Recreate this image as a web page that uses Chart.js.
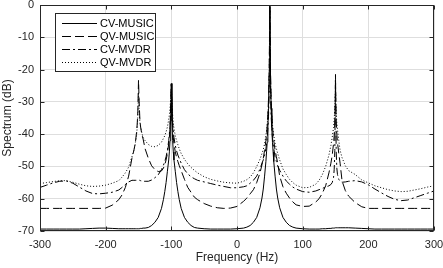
<!DOCTYPE html>
<html>
<head>
<meta charset="utf-8">
<script src="https://cdn.jsdelivr.net/npm/chart.js@4/dist/chart.umd.min.js"></script>
<style>
html,body{margin:0;padding:0;background:#fff;}
#wrap{width:443px;height:268px;}
</style>
</head>
<body>
<div id="wrap"><canvas id="c" width="443" height="268"></canvas></div>
<script>
// Frequency samples (Hz)
const freqs = [
-300,-290,-280,-270,-260,-250,-240,-230,-220,-210,-200,
-190,-180,-175,-170,-165,-160,-157,-155,-153,-152,-151,-150,-149,-148,-147,-145,-143,-140,-135,-130,-125,-120,-115,-112,-110,-108,-106,-104,-103,-102,-101,-100,
-99,-98,-97,-96,-94,-92,-90,-88,-85,-80,-75,-70,-65,-60,-50,-40,-30,-20,-10,0,
10,15,20,25,30,35,38,40,42,44,45,46,47,48,49,50,
51,52,53,54,55,56,58,60,62,65,70,75,80,85,90,100,
110,120,125,130,135,140,143,145,147,148,149,150,
151,152,153,155,157,160,165,170,180,190,200,
210,220,230,240,250,260,270,280,290,300
];
const cvMusic = [
-69.4,-69.4,-69.4,-69.4,-69.4,-69.4,-69.4,-69.3,-69.2,-69.1,-69.1,
-69.2,-69.3,-69.3,-69.3,-69.3,-69.3,-69.3,-69.3,-69.3,-69.3,-69.3,-69.3,-69.3,-69.2,-69.2,-69.2,-69.1,-69.1,-68.9,-68.3,-67.3,-65.8,-63,-60.2,-57.8,-55,-51.5,-48,-45.5,-42,-36,-24.3,
-36,-42,-45.5,-48,-51.5,-55,-57.8,-60.2,-63,-65.8,-67.3,-68.3,-68.9,-69.1,-69.3,-69.4,-69.4,-69.4,-69.4,-69.3,
-69.1,-68.8,-68.3,-67.3,-65.8,-62.8,-59.8,-57,-53,-48.5,-45.5,-42.5,-38,-32,-22,0,
-22,-32,-38,-42.5,-45.5,-48.5,-53,-57,-59.8,-62.8,-65.8,-67.3,-68.3,-68.8,-69.1,-69.3,
-69.4,-69.4,-69.4,-69.3,-69.3,-69.2,-69.2,-69.1,-69.1,-69.1,-69.1,-69.0,
-69.0,-69.0,-69.0,-69.0,-69.0,-69.0,-69.0,-69.0,-69.1,-69.2,-69.3,
-69.4,-69.4,-69.4,-69.4,-69.4,-69.4,-69.4,-69.4,-69.4,-69.4
];
const qvMusic = [
-63,-63,-63,-63,-63,-63,-63,-63,-63,-63,-62.9,
-62,-60.3,-58.8,-56.5,-53,-47.5,-45,-43,-39.5,-37,-33,-23.3,-30,-35,-37.5,-40,-41.5,-44.5,-47.5,-49.8,-51,-51.6,-51.4,-50.5,-49.5,-48,-46,-43,-41,-38,-33,-24.5,
-33,-38,-41,-43,-45.5,-47.2,-48.5,-49.7,-51.3,-54,-56.5,-58,-59.5,-60.3,-61.5,-62.3,-62.8,-63,-62.9,-62.4,
-60.8,-59.8,-58.5,-57.2,-55,-52,-49.5,-47.5,-45,-42,-40,-37.5,-34,-29,-20,-0.5,
-20,-29,-34,-37.5,-40,-42,-45,-47,-49,-53,-56.3,-58.3,-59.8,-61,-61.9,-62.4,
-62.3,-61,-60,-58.3,-56,-52,-49,-46.5,-43,-40.5,-36,-22.5,
-36,-40,-42.5,-46,-49,-54.5,-57.5,-59.2,-61.2,-62.5,-63,
-63,-63,-63,-63,-63,-63,-63,-63,-63,-63
];
const cvMvdr = [
-56.5,-55.8,-55.1,-54.6,-54.5,-55.2,-56.4,-57.6,-58.4,-58.5,-58.3,
-58,-57.3,-56.5,-55.6,-54.8,-54.3,-54.3,-54.3,-54.3,-54.3,-54.3,-54.3,-54.3,-54.3,-54.4,-54.5,-54.6,-54.6,-54.6,-54.2,-53.5,-52.6,-51,-49.6,-48.5,-47,-45,-42,-40,-37,-32,-24.5,
-32,-36.5,-39,-41,-43.5,-45.2,-46.5,-47.5,-49,-51,-52.3,-53.2,-53.8,-54.3,-54.8,-55.3,-55.8,-56.2,-56.6,-56.6,
-56.3,-56,-55.2,-54.3,-53,-50.8,-49,-48,-46.5,-44.5,-43,-41,-38.5,-34.5,-27,-0.5,
-27,-34.5,-38.5,-41,-43,-44.5,-47,-48.5,-49.8,-51.2,-53,-54.5,-55.5,-56.4,-57,-57.8,
-58,-57.6,-57.2,-56.8,-56.4,-56,-55.6,-55,-53.5,-51,-45,-21.5,
-45,-50.5,-52.5,-54,-54.6,-54.9,-54.8,-54.6,-54.4,-54.8,-55.7,
-57,-58.2,-59.3,-60.2,-60.6,-60.4,-59.7,-59,-58.3,-57.6
];
const qvMvdr = [
-55.3,-55.0,-54.7,-54.4,-54.4,-54.9,-55.5,-56.0,-56.2,-56.1,-55.8,
-55.2,-54.4,-53.3,-52,-50.2,-47,-45,-43,-40.5,-38,-34,-27,-33,-36,-37.5,-39.5,-41,-42,-43.2,-43.8,-43.9,-43.5,-42.5,-41.3,-40.5,-39.3,-37.8,-35.5,-34,-32,-29,-25,
-30,-34,-36.5,-38.2,-40.5,-42,-43.3,-44.5,-46,-47.8,-49.2,-50.3,-51.2,-52,-53.2,-54,-54.5,-54.9,-55.1,-55.2,
-54.6,-54.1,-53.3,-52,-50,-47.8,-46,-44.8,-43,-40.5,-39,-37,-34.5,-30.5,-24,-1,
-24,-30.5,-34.5,-37,-39,-40.5,-42.8,-44.5,-46,-48,-50.8,-52.5,-54,-55,-55.8,-56.6,
-56.5,-55.5,-54.3,-52.5,-50,-46.5,-43.5,-41,-38,-35.5,-32,-26,
-33,-36.5,-38.5,-42,-45,-47.3,-49.8,-51.3,-52.5,-54.2,-55.1,
-56,-56.6,-57.2,-57.6,-57.8,-57.7,-57.3,-56.9,-56.4,-56.0
];
const seriesNames = ['CV-MUSIC','QV-MUSIC','CV-MVDR','QV-MVDR'];
const xTicks = [-300,-200,-100,0,100,200,300];
const yTicks = [0,-10,-20,-30,-40,-50,-60,-70];

const AX = '#262626';
const FONT = "'Liberation Sans', Arial, Helvetica, sans-serif";
const dashes = [[], [9,4], [8,3,2,3], [1,2]];
const seriesData = [cvMusic, qvMusic, cvMvdr, qvMvdr];

const datasets = seriesData.map((arr, k) => ({
  label: seriesNames[k],
  data: freqs.map((f, i) => ({x: f, y: arr[i]})),
  borderColor: '#000',
  borderWidth: 1,
  borderDash: dashes[k],
  pointRadius: 0,
  fill: false,
  tension: 0
}));

const frameAndLegend = {
  id: 'frameAndLegend',
  afterDraw(chart) {
    const ctx = chart.ctx;
    const {left, right, top, bottom} = chart.chartArea;
    const xs = chart.scales.x, ys = chart.scales.y;
    ctx.save();
    ctx.strokeStyle = AX;
    ctx.lineWidth = 1;
    ctx.setLineDash([]);
    const L = Math.round(left) + 0.5, R = Math.round(right) - 0.5;
    const T = Math.round(top) + 0.5, B = Math.round(bottom) - 0.5;
    ctx.strokeRect(L, T, R - L, B - T);
    ctx.beginPath();
    xTicks.forEach(v => {
      const px = Math.round(xs.getPixelForValue(v)) + 0.5;
      ctx.moveTo(px, B); ctx.lineTo(px, B - 4);
      ctx.moveTo(px, T); ctx.lineTo(px, T + 4);
    });
    yTicks.forEach(v => {
      const py = Math.round(ys.getPixelForValue(v)) + 0.5;
      ctx.moveTo(L, py); ctx.lineTo(L + 4, py);
      ctx.moveTo(R, py); ctx.lineTo(R - 4, py);
    });
    ctx.stroke();

    // legend box
    const bx = 55.5, by = 13.5, bw = 100, bh = 58;
    ctx.fillStyle = '#fff';
    ctx.fillRect(bx, by, bw, bh);
    ctx.strokeStyle = AX;
    ctx.strokeRect(bx, by, bw, bh);
    ctx.font = '11px ' + FONT;
    ctx.textBaseline = 'middle';
    ctx.textAlign = 'left';
    chart.data.datasets.forEach((ds, k) => {
      const yy = Math.round(22.5 + 13 * k) + 0.5;
      ctx.strokeStyle = '#000';
      ctx.setLineDash(ds.borderDash || []);
      ctx.beginPath();
      ctx.moveTo(62, yy); ctx.lineTo(97, yy);
      ctx.stroke();
      ctx.setLineDash([]);
      ctx.fillStyle = '#000';
      ctx.fillText(ds.label, 100, yy);
    });
    ctx.restore();
  }
};

new Chart(document.getElementById('c'), {
  type: 'line',
  data: { datasets },
  options: {
    responsive: false,
    devicePixelRatio: 1,
    animation: false,
    events: [],
    layout: { padding: { left: 0, right: 9, top: 5, bottom: 0 } },
    plugins: { legend: { display: false }, tooltip: { enabled: false } },
    scales: {
      x: {
        type: 'linear', min: -300, max: 300,
        afterBuildTicks(s) { s.ticks = xTicks.map(v => ({value: v})); },
        ticks: { font: { family: FONT, size: 11 }, color: AX, padding: 7, maxRotation: 0, autoSkip: false },
        grid: { color: '#dedede', drawTicks: false },
        border: { display: false },
        title: { display: true, text: 'Frequency (Hz)', font: { family: FONT, size: 12 }, color: AX, padding: { top: 0, bottom: 3 } },
        afterFit(s) { s.height = 37; s.paddingLeft = 0; s.paddingRight = 0; }
      },
      y: {
        type: 'linear', min: -70, max: 0,
        afterBuildTicks(s) { s.ticks = yTicks.map(v => ({value: v})); },
        ticks: { font: { family: FONT, size: 11 }, color: AX, padding: 6, autoSkip: false },
        grid: { color: '#dedede', drawTicks: false },
        border: { display: false },
        title: { display: true, text: 'Spectrum (dB)', font: { family: FONT, size: 12 }, color: AX, padding: { top: 0, bottom: 0 } },
        afterFit(s) { s.width = 40; s.paddingTop = 0; s.paddingBottom = 0; }
      }
    }
  },
  plugins: [frameAndLegend]
});
</script>
</body>
</html>
